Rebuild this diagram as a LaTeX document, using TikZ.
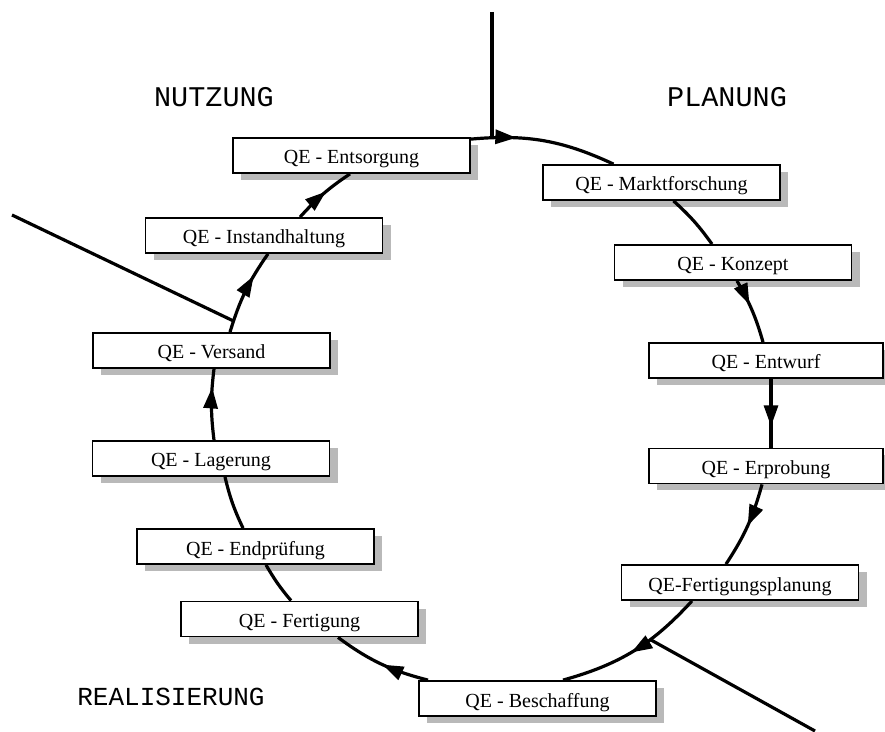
\documentclass[tikz,border=0pt]{standalone}
\usepackage{fontspec}
\setmainfont{Liberation Serif}
\newfontfamily\headfont{Liberation Mono}
\usepackage{tikz}
\usetikzlibrary{positioning,arrows.meta,shadows,decorations.markings}

\begin{document}
\begin{tikzpicture}[>={Triangle[width=14pt,length=21pt]},
	qebox/.style={draw, line width=1.8pt, fill=white, minimum width=237pt, minimum height=35pt, inner sep=0pt, text height=18pt, text depth=1pt, font=\fontsize{20}{20}\selectfont, drop shadow={shadow xshift=8pt, shadow yshift=-7pt, fill=gray!55, opacity=1}},
	phase/.style={font=\headfont\fontsize{28.5}{28.5}\selectfont},
	flow/.style={line width=3.2pt},
	arrowat/.style={postaction={decorate}, decoration={markings, mark=at position #1 with {\arrow{>}}}}]
	\useasboundingbox (0pt, 0pt) rectangle (885pt, 731pt);
	\draw (214.0pt, 634.0pt)node[phase](nutzung){NUTZUNG};
	\draw (727.0pt, 634.0pt)node[phase](planung){PLANUNG};
	\draw (171.0pt, 34.0pt)node[phase, font=\headfont\fontsize{26}{26}\selectfont](realisierung){REALISIERUNG};
	\draw (351.5pt, 575.5pt)node[qebox](entsorgung){QE - Entsorgung};
	\draw (661.5pt, 548.5pt)node[qebox](markt){QE - Marktforschung};
	\draw (733.0pt, 468.5pt)node[qebox](konzept){QE - Konzept};
	\draw (766.0pt, 370.5pt)node[qebox, minimum width=234pt](entwurf){QE - Entwurf};
	\draw (766.0pt, 265.0pt)node[qebox, minimum width=234pt](erprobung){QE - Erprobung};
	\draw (740.0pt, 148.5pt)node[qebox](fplanung){QE-Fertigungsplanung};
	\draw (537.5pt, 32.5pt)node[qebox](beschaffung){QE - Beschaffung};
	\draw (299.5pt, 112.0pt)node[qebox](fertigung){QE - Fertigung};
	\draw (255.5pt, 184.5pt)node[qebox](endpruefung){QE - Endprüfung};
	\draw (211.0pt, 272.5pt)node[qebox](lagerung){QE - Lagerung};
	\draw (211.5pt, 380.5pt)node[qebox](versand){QE - Versand};
	\draw (264.0pt, 495.5pt)node[qebox](instand){QE - Instandhaltung};
	\path[flow] ([yshift=-2pt]entsorgung.north east) edge[bend left=15, arrowat=.31] coordinate[pos=.13](jtop) ([xshift=-48pt]markt.north);
	\path[flow] ([xshift=12pt]markt.south) edge[bend left=6] ([xshift=-21pt]konzept.north);
	\path[flow] ([xshift=4pt]konzept.south) edge[bend left=7, arrowat=.4] ([xshift=-3pt]entwurf.north);
	\path[flow] ([xshift=5pt]entwurf.south) edge[arrowat=.69] ([xshift=5pt]erprobung.north);
	\path[flow] ([xshift=-4pt]erprobung.south) edge[bend left=9, arrowat=.5] ([xshift=-14pt]fplanung.north);
	\path[flow] ([xshift=-48pt]fplanung.south) edge[bend left=16, arrowat=.52] coordinate[pos=.36](jright) ([xshift=25.5pt]beschaffung.north);
	\path[flow] ([xshift=-109.5pt]beschaffung.north) edge[bend left=11, arrowat=.48] ([xshift=38.5pt]fertigung.south);
	\path[flow] ([xshift=-8.5pt]fertigung.north) edge[bend left=5] ([xshift=10.5pt]endpruefung.south);
	\path[flow] ([xshift=-12.5pt]endpruefung.north) edge[bend left=6] ([xshift=14pt]lagerung.south);
	\path[flow] ([xshift=3pt]lagerung.north) edge[bend left=7, arrowat=.74] ([xshift=2.5pt]versand.south);
	\path[flow] ([xshift=18.5pt]versand.north) edge[bend left=9, arrowat=.7] coordinate[pos=.12](jleft) ([xshift=4pt]instand.south);
	\path[flow] ([xshift=36pt]instand.north) edge[bend left=7, arrowat=.55] ([xshift=-1.5pt]entsorgung.south);
	\coordinate (intop) at (jtop |- 0pt, 719pt);
	\coordinate (inleft) at (12pt, 516pt);
	\coordinate (outright) at (815pt, 0pt);
	\draw[flow, line width=3.6pt] (intop) -- (jtop);
	\draw[flow] (inleft) -- (jleft);
	\draw[flow] (jright) -- (outright);
	\end{tikzpicture}
\end{document}
